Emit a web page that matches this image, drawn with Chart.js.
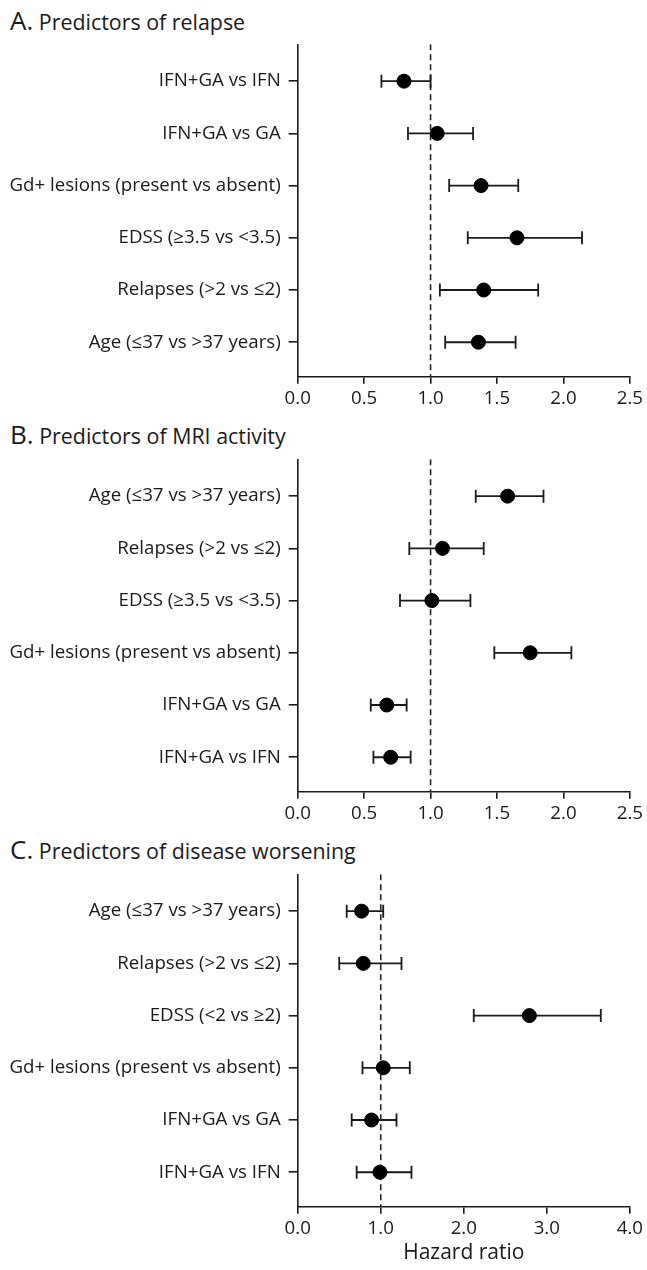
<!DOCTYPE html>
<html>
<head>
<meta charset="utf-8">
<script src="https://cdn.jsdelivr.net/npm/chart.js@4.4.1/dist/chart.umd.min.js"></script>
<style>
  body { margin: 0; background: #fff; width: 647px; height: 1270px; position: relative; overflow: hidden; font-family: 'Open Sans', sans-serif; color: #1a1a1a; }
  .ttl { position: absolute; left: 10px; font-size: 21.4px; line-height: 0; white-space: nowrap; }
  .ttl span { font-size: 26px; }
  .box { position: absolute; left: 0; width: 647px; }
</style>
</head>
<body>
<div class="ttl" style="top:20px"><span>A.</span> Predictors of relapse</div>
<div class="ttl" style="top:434px"><span>B.</span> Predictors of MRI activity</div>
<div class="ttl" style="top:849px"><span>C.</span> Predictors of disease worsening</div>

<div class="box" style="top:36px;height:384px"><canvas id="chartA"></canvas></div>
<div class="box" style="top:451px;height:384px"><canvas id="chartB"></canvas></div>
<div class="box" style="top:866px;height:404px"><canvas id="chartC"></canvas></div>

<script>
// A. relapse
const labelsA = ['IFN+GA vs IFN', 'IFN+GA vs GA', 'Gd+ lesions (present vs absent)', 'EDSS (≥3.5 vs <3.5)', 'Relapses (>2 vs ≤2)', 'Age (≤37 vs >37 years)'];
const hrA = [0.80, 1.05, 1.38, 1.65, 1.40, 1.36];
const loA = [0.63, 0.83, 1.14, 1.28, 1.07, 1.11];
const hiA = [1.00, 1.32, 1.66, 2.14, 1.81, 1.64];

// B. MRI activity
const labelsB = ['Age (≤37 vs >37 years)', 'Relapses (>2 vs ≤2)', 'EDSS (≥3.5 vs <3.5)', 'Gd+ lesions (present vs absent)', 'IFN+GA vs GA', 'IFN+GA vs IFN'];
const hrB = [1.58, 1.09, 1.01, 1.75, 0.67, 0.70];
const loB = [1.34, 0.84, 0.77, 1.48, 0.55, 0.57];
const hiB = [1.85, 1.40, 1.30, 2.06, 0.82, 0.85];

// C. disease worsening
const labelsC = ['Age (≤37 vs >37 years)', 'Relapses (>2 vs ≤2)', 'EDSS (<2 vs ≥2)', 'Gd+ lesions (present vs absent)', 'IFN+GA vs GA', 'IFN+GA vs IFN'];
const hrC = [0.77, 0.79, 2.79, 1.03, 0.89, 0.99];
const loC = [0.59, 0.50, 2.12, 0.78, 0.65, 0.71];
const hiC = [1.03, 1.25, 3.65, 1.35, 1.19, 1.37];

const refHR = 1;
const ticksAB = [0, 0.5, 1, 1.5, 2, 2.5];
const ticksC = [0, 1, 2, 3, 4];

Chart.defaults.font.family = "'Open Sans', sans-serif";
Chart.defaults.font.size = 18.7;
Chart.defaults.color = '#1a1a1a';

const ink = '#1a1a1a';
const yMin = 0.294, yMax = 6.66;

function forest(id, labels, hr, lo, hi, xTicks, xTitle) {
  const rows = labels.map((_, i) => i + 1);
  const ciSets = rows.map((r, i) => ({
    type: 'line',
    data: [{x: lo[i], y: r}, {x: hi[i], y: r}],
    borderColor: ink,
    borderWidth: 1.8,
    pointRadius: 0,
    order: 2
  }));
  const caps = [];
  rows.forEach((r, i) => { caps.push({x: lo[i], y: r}, {x: hi[i], y: r}); });

  new Chart(document.getElementById(id), {
    type: 'scatter',
    data: {
      datasets: [
        {
          data: rows.map((r, i) => ({x: hr[i], y: r})),
          backgroundColor: '#000',
          borderColor: '#000',
          pointRadius: 7,
          order: 0
        },
        {
          data: caps,
          pointStyle: 'line',
          rotation: 90,
          pointRadius: 6.5,
          pointBorderWidth: 1.8,
          borderColor: ink,
          order: 1
        },
        ...ciSets,
        {
          type: 'line',
          data: [{x: refHR, y: yMin}, {x: refHR, y: yMax}],
          borderColor: '#222',
          borderWidth: 1.6,
          borderDash: [6, 4],
          pointRadius: 0,
          order: 3
        }
      ]
    },
    options: {
      responsive: true,
      maintainAspectRatio: false,
      animation: false,
      layout: { padding: { top: 7.3, right: 16.5, left: 0, bottom: 0 } },
      plugins: { legend: { display: false }, tooltip: { enabled: false } },
      scales: {
        x: {
          type: 'linear',
          min: xTicks[0],
          max: xTicks[xTicks.length - 1],
          afterBuildTicks: s => { s.ticks = xTicks.map(v => ({value: v})); },
          afterFit: s => { s.height = xTitle ? 63.3 : 43.3; },
          ticks: { callback: v => v.toFixed(1), padding: 4, maxRotation: 0 },
          grid: { drawOnChartArea: false, drawTicks: true, tickLength: 7, color: ink, lineWidth: 1.6 },
          border: { color: ink, width: 1.6 },
          title: { display: !!xTitle, text: xTitle, font: { size: 21 }, padding: { top: 5 } }
        },
        y: {
          type: 'linear',
          reverse: true,
          min: yMin,
          max: yMax,
          afterBuildTicks: s => { s.ticks = rows.map(v => ({value: v})); },
          afterFit: s => { s.width = 297.7; s.paddingTop = 0; s.paddingBottom = 0; },
          ticks: { callback: v => labels[v - 1], padding: 8 },
          grid: { drawOnChartArea: false, drawTicks: true, tickLength: 9, color: ink, lineWidth: 1.6 },
          border: { color: ink, width: 1.6 }
        }
      }
    }
  });
}

forest('chartA', labelsA, hrA, loA, hiA, ticksAB, '');
forest('chartB', labelsB, hrB, loB, hiB, ticksAB, '');
forest('chartC', labelsC, hrC, loC, hiC, ticksC, 'Hazard ratio');
</script>
</body>
</html>
